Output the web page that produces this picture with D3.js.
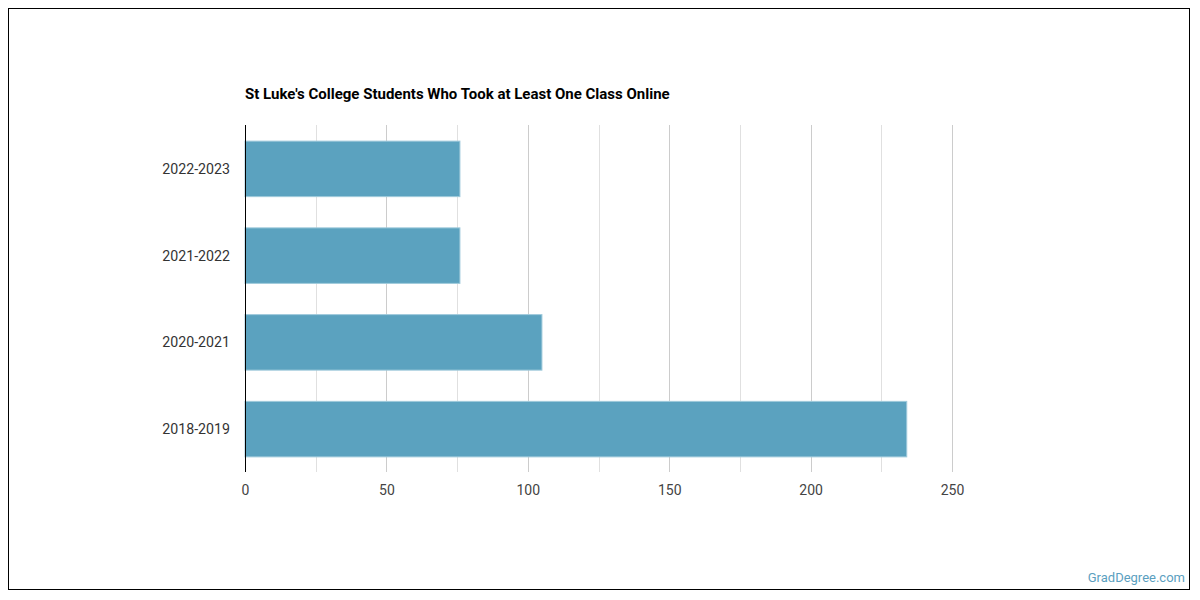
<!DOCTYPE html>
<html><head><meta charset="utf-8">
<script src="https://cdn.jsdelivr.net/npm/d3@7"></script>
<style>body{margin:0;background:#fff;font-family:Roboto,sans-serif;}</style>
</head><body>
<svg id="c" width="1200" height="600"></svg>
<script>
const categories = ["2022-2023","2021-2022","2020-2021","2018-2019"];
const values = [76, 76, 105, 234];
const xTicks = [0,50,100,150,200,250];
const gridTicks = [25,50,75,100,125,150,175,200,225,250];
const title = "St Luke's College Students Who Took at Least One Class Online";

(function(){
const svg = d3.select("#c");
svg.append("rect").attr("x",8.5).attr("y",8.5).attr("width",1181).attr("height",581)
  .attr("fill","#fff").attr("stroke","#000").attr("stroke-width",1);

const pL=245, pR=952, pT=125, pB=472;
const x = d3.scaleLinear().domain([0,250]).range([pL,pR]);
const y = d3.scaleBand().domain(categories).range([pT,pB]).paddingInner(0.36).paddingOuter(0.18);

svg.append("g").selectAll("line").data(gridTicks).join("line")
  .attr("x1",d=>Math.round(x(d))+0.5).attr("x2",d=>Math.round(x(d))+0.5)
  .attr("y1",pT).attr("y2",pB)
  .attr("stroke",d=>d%50===0?"#cccccc":"#e0e0e0").attr("stroke-width",1);

svg.append("g").selectAll("rect").data(values).join("rect")
  .attr("x",x(0)).attr("y",(d,i)=>y(categories[i])+0.5)
  .attr("width",d=>x(d)-x(0)).attr("height",y.bandwidth())
  .attr("fill","#5ba2bf").attr("stroke","#9fcadb").attr("stroke-width",1);

svg.append("line").attr("x1",pL+0.5).attr("x2",pL+0.5).attr("y1",pT).attr("y2",pB)
  .attr("stroke","#000").attr("stroke-width",1);

const xa = d3.axisBottom(x).tickValues(xTicks).tickSize(0).tickPadding(13);
const gx = svg.append("g").attr("transform",`translate(0,${pB})`).call(xa);
gx.select(".domain").remove();
gx.selectAll("text").attr("font-family","Roboto").attr("font-size",14).attr("fill","#444");

const ya = d3.axisLeft(y).tickSize(0).tickPadding(15);
const gy = svg.append("g").attr("transform",`translate(${pL},1)`).call(ya);
gy.select(".domain").remove();
gy.selectAll("text").attr("font-family","Roboto").attr("font-size",14.2).attr("fill","#333");

svg.append("text").attr("x",pL).attr("y",99).text(title)
  .attr("font-family","Roboto").attr("font-weight","bold").attr("font-size",15).attr("fill","#000");

svg.append("text").attr("x",1185).attr("y",582).attr("text-anchor","end").text("GradDegree.com")
  .attr("font-family","Roboto").attr("font-size",13).attr("fill","#5b9fbf");
})();
</script>
</body></html>
